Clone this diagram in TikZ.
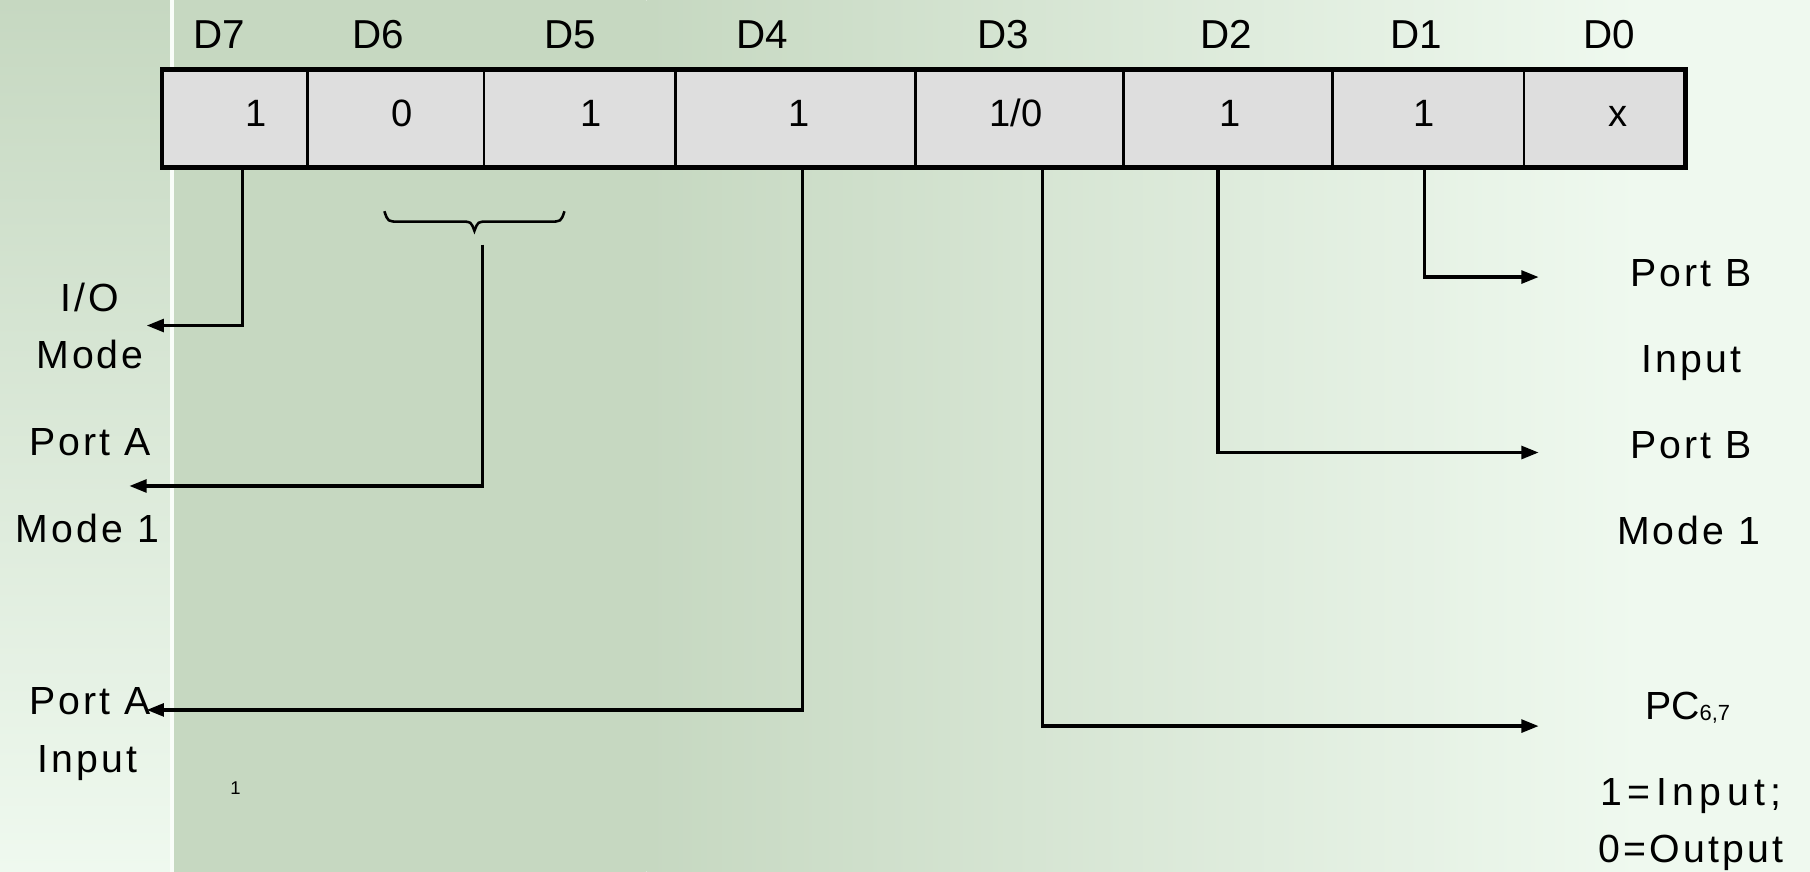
\documentclass[tikz,border=0pt]{standalone}
\usepackage{fontspec}
\setmainfont{Liberation Sans}
\usetikzlibrary{arrows.meta}
\definecolor{bgG}{RGB}{198,216,193}
\definecolor{bgP}{RGB}{239,249,239}
\definecolor{cellfill}{RGB}{222,222,222}
\tikzset{
  cellbox/.style={draw=black, line width=2.5pt, fill=cellfill, minimum height=83pt, inner sep=0pt, anchor=north west},
  hdr/.style={font=\fontsize{35}{40}\selectfont, anchor=base, inner sep=0pt},
  val/.style={font=\fontsize{33}{38}\selectfont, anchor=base, inner sep=0pt},
  lbl/.style={font=\addfontfeature{LetterSpace=8}\fontsize{34}{40}\selectfont, anchor=base, inner sep=0pt},
  conn/.style={draw=black, line width=3pt, -{Triangle[length=15pt,width=11pt]}},
}
\begin{document}
\begin{tikzpicture}[x=1pt,y=-1pt]
\useasboundingbox (0,0) rectangle (1568,755);
% background
\shade[top color=bgG, bottom color=bgP] (0,0) rectangle (148,755);
\fill[bgG] (148,0) rectangle (560,755);
\shade[left color=bgG, right color=bgP] (560,0) rectangle (1420,755);
\fill[bgP] (1420,0) rectangle (1568,755);
\fill[white!60!bgP] (147,0) rectangle (151,755);

% register cells
\node[cellbox, minimum width=125pt] (c7) at (140,60) {};
\node[cellbox, minimum width=153pt] (c6) at (265,60) {};
\node[cellbox, minimum width=166pt] (c5) at (418,60) {};
\node[cellbox, minimum width=208pt] (c4) at (584,60) {};
\node[cellbox, minimum width=180pt] (c3) at (792,60) {};
\node[cellbox, minimum width=181pt] (c2) at (972,60) {};
\node[cellbox, minimum width=166pt] (c1) at (1153,60) {};
\node[cellbox, minimum width=139pt] (c0) at (1319,60) {};
\draw[line width=3.5pt] (c7.north west) rectangle (c0.south east);

% headers
\node[hdr] (h7) at (190,42) {D7};
\node[hdr] (h6) at (328,42) {D6};
\node[hdr] (h5) at (494,42) {D5};
\node[hdr] (h4) at (660,42) {D4};
\node[hdr] (h3) at (869,42) {D3};
\node[hdr] (h2) at (1062,42) {D2};
\node[hdr] (h1) at (1227,42) {D1};
\node[hdr] (h0) at (1394,42) {D0};

% values
\node[val] (v7) at (222,110) {1};
\node[val] (v6) at (348,110) {0};
\node[val] (v5) at (512,110) {1};
\node[val] (v4) at (692,110) {1};
\node[val] (v3) at (880,110) {1/0};
\node[val] (v2) at (1066,110) {1};
\node[val] (v1) at (1234,110) {1};
\node[val] (v0) at (1402,110) {x};

% brace under D6-D5
\draw[line width=2.2pt] (333,183) .. controls (336,192) .. (346,192) -- (400,192)
  .. controls (408,192) .. (411,200) .. controls (414,192) .. (422,192) -- (476,192)
  .. controls (486,192) .. (489,183);

% left labels
\node[lbl] (l1a) at (78,270) {I/O};
\node[lbl] (l1b) at (78,319) {Mode};
\node[lbl] (l2a) at (78,395) {Port A};
\node[lbl] (l2b) at (76,470) {Mode 1};
\node[lbl] (l3a) at (78,619) {Port A};
\node[lbl] (l3b) at (76,669) {Input};
\node[font=\fontsize{16}{18}\selectfont, anchor=base, inner sep=0pt] (small) at (204,688) {1};

% right labels
\node[lbl] (r1a) at (1465,248) {Port B};
\node[lbl] (r1b) at (1465,323) {Input};
\node[lbl] (r2a) at (1465,397) {Port B};
\node[lbl] (r2b) at (1463,472) {Mode 1};
\node[font=\fontsize{34}{40}\selectfont, anchor=base, inner sep=0pt] (r3a) at (1462,623) {PC\raisebox{-1pt}{\fontsize{19}{21}\selectfont 6,7}};
\node[font=\addfontfeature{LetterSpace=14}\fontsize{34}{40}\selectfont, anchor=base, inner sep=0pt] (r3b) at (1465,698) {1=Input;};
\node[font=\addfontfeature{LetterSpace=8}\fontsize{34}{40}\selectfont, anchor=base, inner sep=0pt] (r3c) at (1465,747) {0=Output};

% connector coordinates
\coordinate (s7) at (210,143);
\coordinate (e7) at (127,282);
\coordinate (sb) at (418,212);
\coordinate (eb) at (112,421);
\coordinate (s4) at (695,143);
\coordinate (e4) at (127,615);
\coordinate (s3) at (903,143);
\coordinate (e3) at (1333,629);
\coordinate (s2) at (1055,143);
\coordinate (e2) at (1333,392);
\coordinate (s1) at (1234,143);
\coordinate (e1) at (1333,240);

\draw[conn] (s7) |- (e7);
\draw[conn] (sb) |- (eb);
\draw[conn] (s4) |- (e4);
\draw[conn] (s3) |- (e3);
\draw[conn] (s2) |- (e2);
\draw[conn] (s1) |- (e1);
\end{tikzpicture}
\end{document}
